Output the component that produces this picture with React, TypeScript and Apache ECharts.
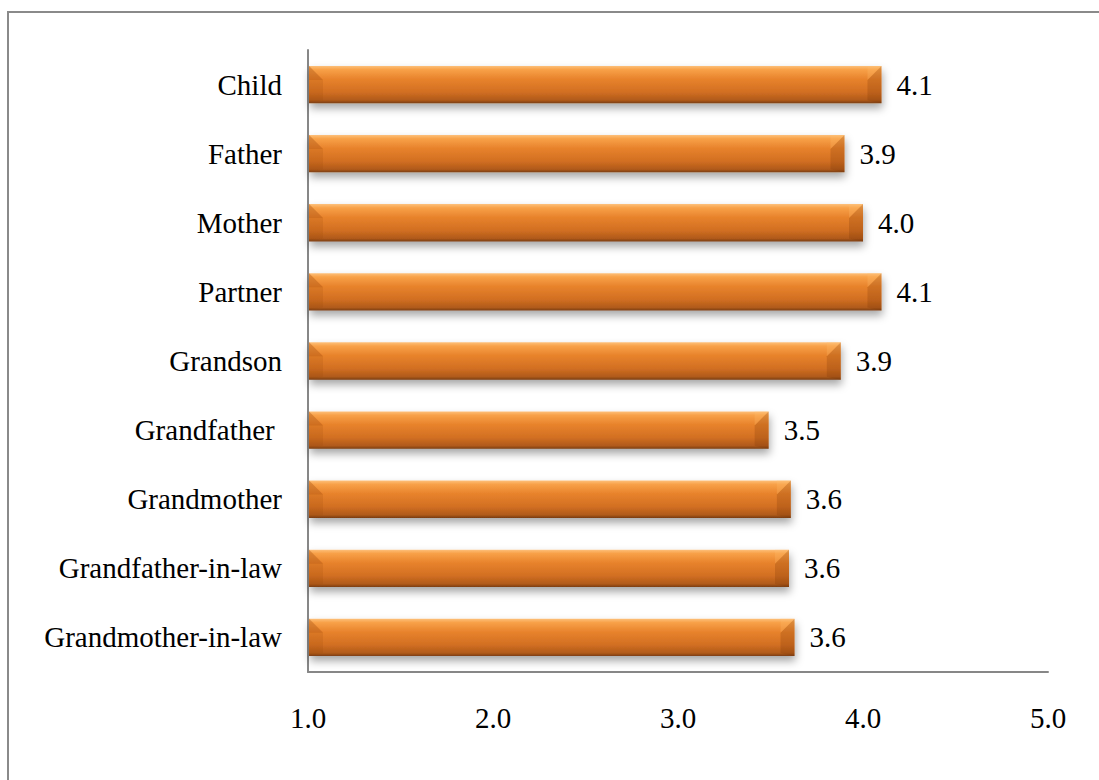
import React, { useEffect, useRef } from "react";
import * as echarts from "echarts";

const categories = [
  "Child",
  "Father",
  "Mother",
  "Partner",
  "Grandson",
  "Grandfather ",
  "Grandmother",
  "Grandfather-in-law",
  "Grandmother-in-law",
];
const values = [4.1, 3.9, 4.0, 4.1, 3.88, 3.49, 3.61, 3.6, 3.63];
const xTicks = [1, 2, 3, 4, 5];

const FONT = "Liberation Serif";

export default function App() {
  const ref = useRef<HTMLDivElement>(null);
  useEffect(() => {
    if (!ref.current) return;
    const chart = echarts.init(ref.current, null, { renderer: "svg" });
    const barGrad = new echarts.graphic.LinearGradient(0, 0, 0, 1, [
      { offset: 0, color: "#fdc07a" },
      { offset: 0.1, color: "#f8a148" },
      { offset: 0.35, color: "#e8832c" },
      { offset: 0.7, color: "#d26f22" },
      { offset: 0.92, color: "#b05a1a" },
      { offset: 1, color: "#7a3d10" },
    ]);
    const option: any = {
      animation: false,
      backgroundColor: "#ffffff",
      graphic: [
        {
          type: "rect",
          shape: { x: 8, y: 12, width: 1200, height: 900 },
          style: { fill: "none", stroke: "#8a8a8a", lineWidth: 2 },
          silent: true,
        },
      ],
      grid: { left: 308, right: 51, top: 50, bottom: 108, containLabel: false },
      xAxis: {
        type: "value",
        min: xTicks[0],
        max: xTicks[xTicks.length - 1],
        interval: 1,
        axisLine: { show: true, lineStyle: { color: "#878787", width: 2 } },
        axisTick: { show: false },
        splitLine: { show: false },
        axisLabel: {
          formatter: (v: number) => v.toFixed(1),
          color: "#000",
          fontSize: 29,
          fontFamily: FONT,
          margin: 31,
        },
      },
      yAxis: {
        type: "category",
        inverse: true,
        data: categories,
        axisLine: { show: true, lineStyle: { color: "#878787", width: 2 } },
        axisTick: { show: false },
        splitLine: { show: false },
        axisLabel: {
          color: "#000",
          fontSize: 29,
          fontFamily: FONT,
          margin: 26,
        },
      },
      series: [
        {
          type: "custom",
          data: values.map((v, i) => [i, v]),
          encode: { x: 1, y: 0 },
          clip: false,
          renderItem: (params: any, api: any) => {
            const idx = api.value(0);
            const val = api.value(1);
            const s = api.coord([1, idx]);
            const e = api.coord([val, idx]);
            const band = api.size([0, 1])[1];
            const h = band * 0.54;
            const x0 = s[0] + 1;
            const x1 = e[0];
            const top = s[1] - h / 2;
            const bot = s[1] + h / 2;
            const b = 14;
            return {
              type: "group",
              children: [
                {
                  type: "rect",
                  shape: { x: x0, y: top, width: x1 - x0, height: h },
                  style: {
                    fill: barGrad,
                    shadowBlur: 8,
                    shadowOffsetY: 5,
                    shadowOffsetX: 1,
                    shadowColor: "rgba(0,0,0,0.35)",
                  },
                },
                {
                  type: "polygon",
                  shape: {
                    points: [
                      [x0, top],
                      [x0 + b, top + b],
                      [x0 + b, bot - 3],
                      [x0, bot - 1],
                    ],
                  },
                  style: { fill: "rgba(150,70,10,0.15)" },
                },
                {
                  type: "polygon",
                  shape: {
                    points: [
                      [x0, top],
                      [x0 + b, top + b],
                      [x0, top + b],
                    ],
                  },
                  style: { fill: "rgba(170,80,15,0.25)" },
                },
                {
                  type: "polygon",
                  shape: {
                    points: [
                      [x1, top],
                      [x1 - b, top + b],
                      [x1 - b, bot - 3],
                      [x1, bot],
                    ],
                  },
                  style: { fill: "rgba(120,50,5,0.22)" },
                },
                {
                  type: "polygon",
                  shape: {
                    points: [
                      [x1 - b, top],
                      [x1, top],
                      [x1 - b, top + b],
                    ],
                  },
                  style: { fill: "rgba(255,190,110,0.25)" },
                },
                {
                  type: "text",
                  style: {
                    x: x1 + 15,
                    y: s[1],
                    text: val.toFixed(1),
                    fill: "#000",
                    fontSize: 29,
                    fontFamily: FONT,
                    textAlign: "left",
                    textVerticalAlign: "middle",
                  },
                },
              ],
            };
          },
        },
      ],
    };
    chart.setOption(option);
    return () => chart.dispose();
  }, []);
  return (
    <div
      ref={ref}
      style={{ position: "absolute", left: 0, top: 0, width: 1099, height: 780 }}
    />
  );
}
